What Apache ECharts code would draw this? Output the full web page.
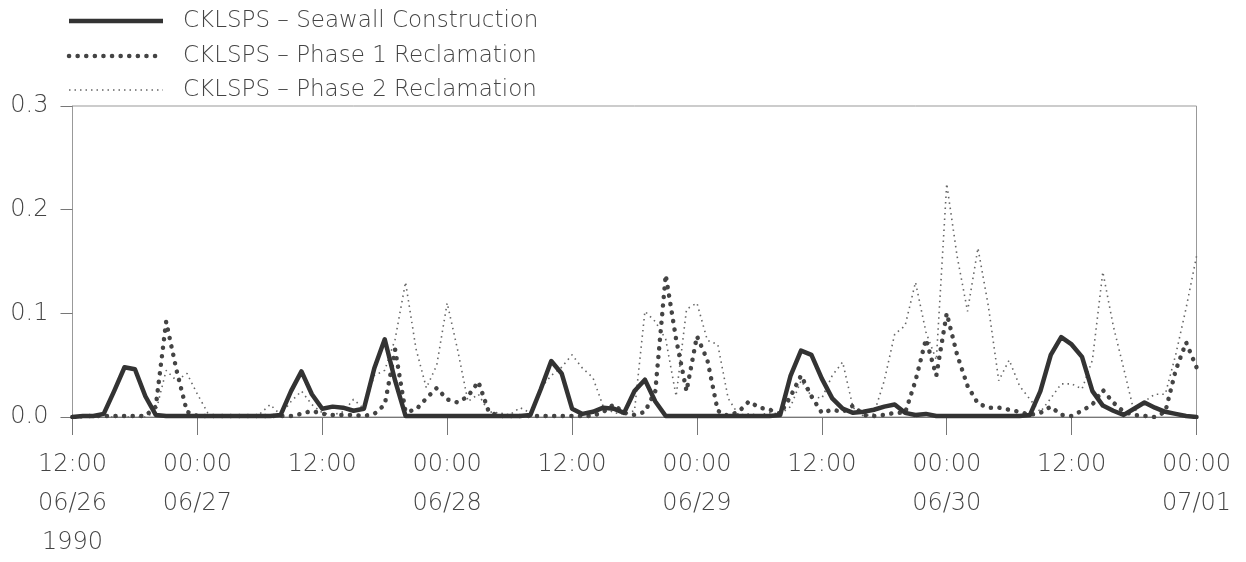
<!DOCTYPE html>
<html>
<head>
<meta charset="utf-8">
<script src="https://cdn.jsdelivr.net/npm/echarts@6/dist/echarts.min.js"></script>
<style>
html,body{margin:0;padding:0;background:#fff;}
#chart{width:1246px;height:562px;}
</style>
</head>
<body>
<div id="chart"></div>
<script>
// hours since 12:00 06/26/1990 (hourly samples)
const seriesNames = ['CKLSPS \u2013 Seawall Construction', 'CKLSPS \u2013 Phase 1 Reclamation', 'CKLSPS \u2013 Phase 2 Reclamation'];
const xTickLabels = ['12:00\n06/26\n1990', '00:00\n06/27', '12:00', '00:00\n06/28', '12:00', '00:00\n06/29', '12:00', '00:00\n06/30', '12:00', '00:00\n07/01'];
const yTickLabels = ['0.0', '0.1', '0.2', '0.3'];

const seawall = [
  0, 0.001, 0.001, 0.003, 0.025, 0.048, 0.046, 0.02, 0.002, 0.001,
  0.001, 0.001, 0.001, 0.001, 0.001, 0.001, 0.001, 0.001, 0.001, 0.001,
  0.002, 0.025, 0.044, 0.022, 0.008, 0.01, 0.009, 0.006, 0.008, 0.047,
  0.075, 0.035, 0.001, 0.001, 0.001, 0.001, 0.001, 0.001, 0.001, 0.001,
  0.001, 0.001, 0.001, 0.001, 0.002, 0.027, 0.054, 0.042, 0.008, 0.003,
  0.005, 0.009, 0.008, 0.004, 0.025, 0.036, 0.015, 0.001, 0.001, 0.001,
  0.001, 0.001, 0.001, 0.001, 0.001, 0.001, 0.001, 0.001, 0.002, 0.04,
  0.064, 0.06, 0.037, 0.018, 0.008, 0.004, 0.005, 0.007, 0.01, 0.012,
  0.004, 0.002, 0.003, 0.001, 0.001, 0.001, 0.001, 0.001, 0.001, 0.001,
  0.001, 0.001, 0.002, 0.025, 0.06, 0.077, 0.07, 0.058, 0.025, 0.011,
  0.006, 0.002, 0.008, 0.014, 0.009, 0.005, 0.003, 0.001, 0
];
const phase1 = [
  0, 0.001, 0.001, 0.001, 0.001, 0.001, 0.001, 0.001, 0.01, 0.092,
  0.045, 0.005, 0.001, 0.001, 0.001, 0.001, 0.001, 0.001, 0.001, 0.001,
  0.001, 0.001, 0.003, 0.006, 0.003, 0.002, 0.002, 0.002, 0.001, 0.003,
  0.012, 0.065, 0.005, 0.007, 0.018, 0.028, 0.017, 0.014, 0.02, 0.034,
  0.005, 0.001, 0.001, 0.001, 0.001, 0.001, 0.001, 0.001, 0.001, 0.001,
  0.001, 0.005, 0.012, 0.004, 0.002, 0.005, 0.025, 0.137, 0.075, 0.025,
  0.078, 0.055, 0.006, 0.001, 0.005, 0.015, 0.009, 0.007, 0.003, 0.02,
  0.04, 0.02, 0.004, 0.007, 0.005, 0.011, 0.002, 0.001, 0.002, 0.004,
  0.004, 0.035, 0.075, 0.04, 0.1, 0.06, 0.03, 0.013, 0.009, 0.009,
  0.007, 0.005, 0.002, 0.004, 0.01, 0.002, 0.001, 0.006, 0.012, 0.026,
  0.014, 0.005, 0.002, 0.001, 0, 0.005, 0.045, 0.072, 0.048
];
const phase2 = [
  0, 0, 0, 0, 0, 0, 0, 0, 0.005, 0.045,
  0.035, 0.042, 0.022, 0.004, 0, 0, 0, 0, 0.003, 0.012,
  0.002, 0.015, 0.025, 0.012, 0.004, 0.002, 0.005, 0.017, 0.008, 0.04,
  0.045, 0.075, 0.13, 0.066, 0.028, 0.05, 0.11, 0.065, 0.015, 0.022,
  0.005, 0.004, 0.002, 0.009, 0.004, 0.028, 0.04, 0.048, 0.06, 0.047,
  0.038, 0.01, 0.004, 0.003, 0.006, 0.102, 0.092, 0.075, 0.02, 0.104,
  0.11, 0.074, 0.07, 0.018, 0.002, 0.003, 0.002, 0.004, 0.003, 0.01,
  0.035, 0.02, 0.018, 0.04, 0.053, 0.009, 0.001, 0.003, 0.035, 0.08,
  0.088, 0.13, 0.082, 0.055, 0.225, 0.155, 0.102, 0.163, 0.107, 0.035,
  0.055, 0.03, 0.017, 0.005, 0.018, 0.032, 0.032, 0.027, 0.055, 0.14,
  0.088, 0.047, 0.005, 0.015, 0.022, 0.022, 0.06, 0.105, 0.155
];

const toPairs = arr => arr.map((v, i) => [i, v]);
const FONT = 'DejaVu Sans';
const WEIGHT = 200;
const TXT = '#444';

const styles = [
  {stroke: '#333', lineWidth: 4.5, lineCap: 'butt'},
  {stroke: '#444', lineWidth: 4.5, lineDash: [0.1, 8.5], lineCap: 'round'},
  {stroke: '#666', lineWidth: 1.6, lineDash: [1.5, 4], lineCap: 'butt'}
];
const legendRowsY = [21, 56, 90];
const legendGraphics = [];
seriesNames.forEach((name, i) => {
  legendGraphics.push({
    type: 'line', shape: {x1: 69, y1: legendRowsY[i], x2: 163, y2: legendRowsY[i]},
    style: Object.assign({fill: null}, styles[i]), silent: true
  });
  legendGraphics.push({
    type: 'text', x: 183, y: legendRowsY[i],
    style: {text: name, fill: TXT, font: WEIGHT + ' 23px "' + FONT + '"', verticalAlign: 'middle', align: 'left'},
    silent: true
  });
});

const chart = echarts.init(document.getElementById('chart'), null, {renderer: 'canvas'});
chart.setOption({
  animation: false,
  backgroundColor: '#fff',
  grid: {left: 72.5, right: 49.5, top: 106, bottom: 139.5, show: true, borderColor: '#999', borderWidth: 1},
  graphic: legendGraphics,
  xAxis: {
    type: 'value', min: 0, max: 108, interval: 12,
    axisLine: {lineStyle: {color: '#777', width: 1}},
    axisTick: {length: 18, lineStyle: {color: '#777'}},
    splitLine: {show: false},
    axisLabel: {
      fontFamily: FONT, fontWeight: WEIGHT, fontSize: 24, color: TXT, lineHeight: 39, margin: 28,
      formatter: v => xTickLabels[Math.round(v / 12)] || ''
    }
  },
  yAxis: {
    type: 'value', min: 0, max: 0.3, interval: 0.1,
    axisLine: {show: true, lineStyle: {color: '#999', width: 1}},
    axisTick: {show: true, length: 12, lineStyle: {color: '#777'}},
    splitLine: {show: false},
    axisLabel: {
      fontFamily: FONT, fontWeight: WEIGHT, fontSize: 24, color: TXT, margin: 24,
      formatter: v => yTickLabels[Math.round(v * 10)] || ''
    }
  },
  series: [
    {
      name: seriesNames[0], type: 'line', data: toPairs(seawall), symbol: 'none', z: 5,
      lineStyle: {color: '#333', width: 4.5, join: 'round', cap: 'round'}
    },
    {
      name: seriesNames[1], type: 'line', data: toPairs(phase1), symbol: 'none', z: 4,
      lineStyle: {color: '#444', width: 4.5, type: [0.1, 8.5], cap: 'round', join: 'round'}
    },
    {
      name: seriesNames[2], type: 'line', data: toPairs(phase2), symbol: 'none', z: 3,
      lineStyle: {color: '#666', width: 1.6, type: [1.5, 4]}
    }
  ]
});
</script>
</body>
</html>
